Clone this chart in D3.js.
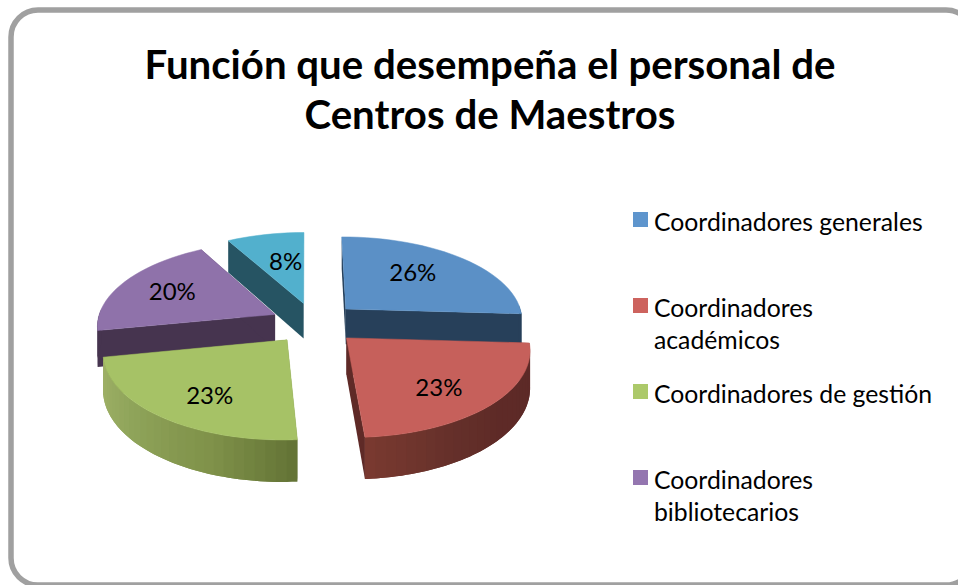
<!DOCTYPE html>
<html><head><meta charset="utf-8">
<script src="https://cdn.jsdelivr.net/npm/d3@7"></script>
<style>html,body{margin:0;padding:0;background:#fff;overflow:hidden}svg{display:block}text{font-family:Lato,"Open Sans",sans-serif;fill:#000}</style>
</head><body><svg id="c" width="958" height="585"></svg>
<script>
const titleLines = ["Función que desempeña el personal de", "Centros de Maestros"];
const values = [26, 23, 23, 20, 8];
const legendLines = [["Coordinadores generales"], ["Coordinadores", "académicos"], ["Coordinadores de gestión"], ["Coordinadores", "bibliotecarios"]];
const topColors = ["#5b90c6", "#c6605b", "#a6c266", "#8f72aa", "#52b0cd"];
const wallColors = ["#27405a", "#5f2a27", "#667639", "#46344f", "#265463"];
const rimStops = [
  [[90, 180], ["#27405a", "#27405a"]],
  [[90, 130, 150, 176.4], ["#5c2a27", "#5e2a27", "#65302a", "#7a3a30"]],
  [[176.4, 200, 230, 259.2], ["#637335", "#7f9149", "#8fa45a", "#a0b268"]],
  [[259.2, 270], ["#46344f", "#46344f"]],
  [[331, 360], ["#265463", "#265463"]]
];

// layout
const cx = 314.5, cy = 323, R = 178, explode = 44, depth = 36, tilt = 0.471, persp = 0.00067;
const rotation = -0.3 * Math.PI / 180;
const labelFrac = 0.6;
const labelNudge = [[-4, -4], [9, 11], [-5, 12], [-11, -2], [6, 2]];
const paintOrder = [4, 0, 3, 2, 1];

const svg = d3.select("#c");
svg.append("rect").attr("x", 11).attr("y", 10).attr("width", 962).attr("height", 575).attr("rx", 27)
  .attr("fill", "#fff").attr("stroke", "#a0a0a0").attr("stroke-width", 5.5);

const title = svg.append("g");
titleLines.forEach((t, i) => title.append("text").attr("x", 490).attr("y", 79 + i * 50)
  .attr("text-anchor", "middle").attr("font-size", 40.2).attr("font-weight", 700).text(t));

const arcs = d3.pie().sort(null).value(d => d).startAngle(rotation).endAngle(2 * Math.PI + rotation)(values);
const project = (X, Y, Z) => {
  const s = 1 / (1 - persp * Y);
  return [cx + X * s, cy + tilt * Y * s + Z * s];
};
const line = d3.line();
const sliceG = svg.append("g");

paintOrder.forEach(i => {
  const d = arcs[i];
  const mid = (d.startAngle + d.endAngle) / 2;
  const ox = explode * Math.sin(mid), oy = -explode * Math.cos(mid);
  const pt = (a, r, z) => project(ox + r * Math.sin(a), oy - r * Math.cos(a), z);
  const n = Math.max(6, Math.round((d.endAngle - d.startAngle) / (Math.PI / 60)));
  const angs = d3.range(n + 1).map(k => d.startAngle + (d.endAngle - d.startAngle) * k / n);
  const g = sliceG.append("g");
  [d.startAngle, d.endAngle].forEach(a => {
    g.append("path").attr("d", line([pt(a, 0, 0), pt(a, R, 0), pt(a, R, depth), pt(a, 0, depth)]) + "Z")
      .attr("fill", wallColors[i]);
  });
  // outer rim: shaded bands painted with overlap so no seams show
  const rs = d3.scaleLinear().domain(rimStops[i][0].map(v => v * Math.PI / 180)).range(rimStops[i][1]).interpolate(d3.interpolateRgb).clamp(true);
  for (let k = 0; k < n; k++) {
    const a0 = angs[k], a1 = angs[Math.min(n, k + 2)];
    const am = (angs[k] + angs[k + 1]) / 2;
    if (Math.cos(am) > 0.03) continue;
    const pts = d3.range(5).map(j => a0 + (a1 - a0) * j / 4);
    const poly = pts.map(a => pt(a, R, 0)).concat(pts.slice().reverse().map(a => pt(a, R, depth)));
    g.append("path").attr("d", line(poly) + "Z").attr("fill", rs(am));
  }
  g.append("path").attr("d", line([pt(0, 0, 0)].concat(angs.map(a => pt(a, R, 0)))) + "Z")
    .attr("fill", topColors[i]).attr("stroke", topColors[i]).attr("stroke-width", 0.5);
});

arcs.forEach((d, i) => {
  const mid = (d.startAngle + d.endAngle) / 2;
  const r = explode + R * labelFrac;
  const p = project(r * Math.sin(mid), -r * Math.cos(mid), 0);
  svg.append("text").attr("x", p[0] + labelNudge[i][0]).attr("y", p[1] + labelNudge[i][1] + 8)
    .attr("text-anchor", "middle").attr("font-size", 24).text(d.value + "%");
});

const legY = d3.scalePoint().domain(d3.range(legendLines.length)).range([212, 470]);
legendLines.forEach((lines, i) => {
  svg.append("rect").attr("x", 633).attr("y", legY(i)).attr("width", 15).attr("height", 15)
    .attr("fill", d3.color(topColors[i]).brighter(0.1));
  lines.forEach((t, j) => svg.append("text").attr("x", 654).attr("y", legY(i) + 18.5 + j * 32)
    .attr("font-size", 24.75).text(t));
});
</script></body></html>
